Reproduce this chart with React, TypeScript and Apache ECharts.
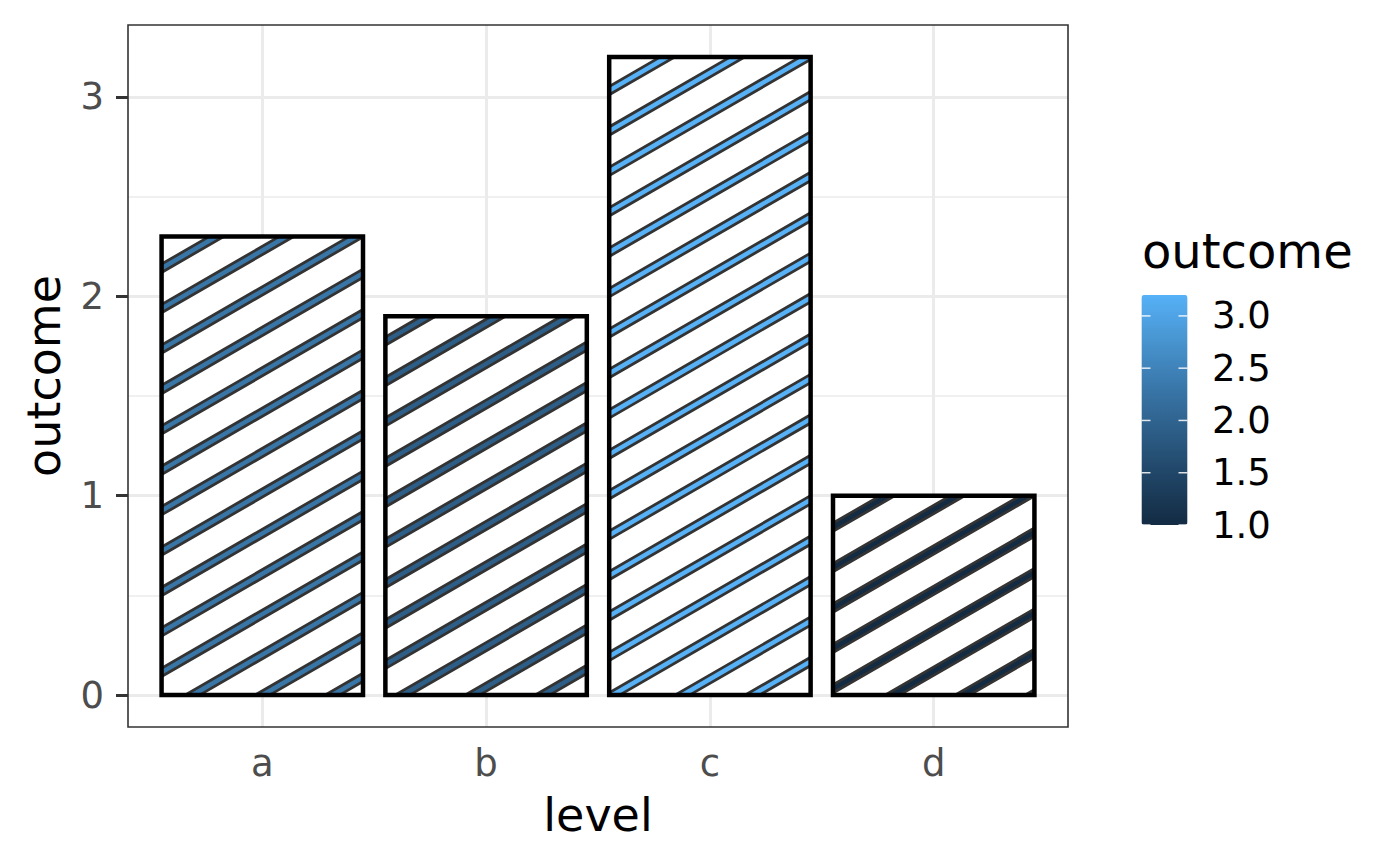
import React, { useEffect, useRef } from "react";
import * as echarts from "echarts";

// ---------- data ----------
const categories = ["a", "b", "c", "d"];
const outcome = [2.3, 1.9, 3.2, 1.0];
const yTicks = [0, 1, 2, 3];
const yMinorTicks = [0.5, 1.5, 2.5];
const legendTicks = [1.0, 1.5, 2.0, 2.5, 3.0];
const colorLow = "#132B43";
const colorHigh = "#56B1F7";

// ---------- layout / style constants ----------
const FONT = "DejaVu Sans";
const GRID = { left: 128, top: 25, width: 940, height: 702 };
const CB = { left: 1141.5, top: 295, width: 46, height: 230 };
const BAR_HALF = 0.45;
const STRIPE_ANGLE = 30;
const STRIPE_SPACING = 70;
const STRIPE_FILL_W = 7.2;
const STRIPE_STROKE_W = 2.8;
const BAR_BORDER_W = 4.5;

// ---------- Lab interpolation (ggplot seq_gradient_pal) ----------
function hexToRgb(h: string) {
  const n = parseInt(h.slice(1), 16);
  return [(n >> 16) & 255, (n >> 8) & 255, n & 255];
}
const toLin = (c: number) => {
  c /= 255;
  return c <= 0.04045 ? c / 12.92 : Math.pow((c + 0.055) / 1.055, 2.4);
};
const fromLin = (c: number) => {
  const v = c <= 0.0031308 ? 12.92 * c : 1.055 * Math.pow(c, 1 / 2.4) - 0.055;
  return Math.round(Math.min(1, Math.max(0, v)) * 255);
};
const WX = 0.95047, WY = 1, WZ = 1.08883;
const fLab = (t: number) => (t > 216 / 24389 ? Math.cbrt(t) : ((24389 / 27) * t + 16) / 116);
const fInv = (t: number) => (t * t * t > 216 / 24389 ? t * t * t : (116 * t - 16) / (24389 / 27));
function rgbToLab(rgb: number[]) {
  const [r, g, b] = rgb.map(toLin);
  const X = (0.4124564 * r + 0.3575761 * g + 0.1804375 * b) / WX;
  const Y = (0.2126729 * r + 0.7151522 * g + 0.072175 * b) / WY;
  const Z = (0.0193339 * r + 0.119192 * g + 0.9503041 * b) / WZ;
  const fx = fLab(X), fy = fLab(Y), fz = fLab(Z);
  return [116 * fy - 16, 500 * (fx - fy), 200 * (fy - fz)];
}
function labToHex(lab: number[]) {
  const [L, a, bb] = lab;
  const fy = (L + 16) / 116, fx = fy + a / 500, fz = fy - bb / 200;
  const X = fInv(fx) * WX, Y = fInv(fy) * WY, Z = fInv(fz) * WZ;
  const r = 3.2404542 * X - 1.5371385 * Y - 0.4985314 * Z;
  const g = -0.969266 * X + 1.8760108 * Y + 0.041556 * Z;
  const b = 0.0556434 * X - 0.2040259 * Y + 1.0572252 * Z;
  const hx = (v: number) => fromLin(v).toString(16).padStart(2, "0");
  return "#" + hx(r) + hx(g) + hx(b);
}
function labStops(c0: string, c1: string, n: number) {
  const l0 = rgbToLab(hexToRgb(c0)), l1 = rgbToLab(hexToRgb(c1));
  const out: string[] = [];
  for (let i = 0; i <= n; i++) {
    const t = i / n;
    out.push(labToHex([0, 1, 2].map((k) => l0[k] + (l1[k] - l0[k]) * t)));
  }
  return out;
}

// ---------- polygon clipping (Sutherland–Hodgman against rect) ----------
function clipPoly(pts: number[][], x0: number, y0: number, x1: number, y1: number) {
  const edges: [(p: number[]) => boolean, (a: number[], b: number[]) => number[]][] = [
    [(p) => p[0] >= x0, (a, b) => { const t = (x0 - a[0]) / (b[0] - a[0]); return [x0, a[1] + t * (b[1] - a[1])]; }],
    [(p) => p[0] <= x1, (a, b) => { const t = (x1 - a[0]) / (b[0] - a[0]); return [x1, a[1] + t * (b[1] - a[1])]; }],
    [(p) => p[1] >= y0, (a, b) => { const t = (y0 - a[1]) / (b[1] - a[1]); return [a[0] + t * (b[0] - a[0]), y0]; }],
    [(p) => p[1] <= y1, (a, b) => { const t = (y1 - a[1]) / (b[1] - a[1]); return [a[0] + t * (b[0] - a[0]), y1]; }],
  ];
  let out = pts;
  for (const [inside, inter] of edges) {
    const inp = out;
    out = [];
    if (!inp.length) break;
    for (let i = 0; i < inp.length; i++) {
      const cur = inp[i];
      const prev = inp[(i + inp.length - 1) % inp.length];
      const ci = inside(cur), pi = inside(prev);
      if (ci) {
        if (!pi) out.push(inter(prev, cur));
        out.push(cur);
      } else if (pi) {
        out.push(inter(prev, cur));
      }
    }
  }
  return out;
}

export default function App() {
  const ref = useRef<HTMLDivElement>(null);
  useEffect(() => {
    if (!ref.current) return;
    const chart = echarts.init(ref.current, undefined, { renderer: "svg" });
    const xPos = categories.map((_, i) => i + 1);
    const vMin = Math.min(...outcome);
    const vMax = Math.max(...outcome);
    const stops = labStops(colorLow, colorHigh, 12);

    const renderItem = (params: any, api: any) => {
      const xi = api.value(0);
      const v = api.value(1);
      const pL = api.coord([xi - BAR_HALF, 0]);
      const pR = api.coord([xi + BAR_HALF, v]);
      const x0 = pL[0], yb = pL[1], x1 = pR[0], yt = pR[1];
      const color = api.visual("color");
      const anchor = api.coord([xPos[0], 0]);
      const ang = (STRIPE_ANGLE * Math.PI) / 180;
      const dx = Math.cos(ang), dy = -Math.sin(ang);
      const nx = Math.sin(ang), ny = Math.cos(ang);
      const cot = 1 / Math.tan(ang);
      const kOf = (x: number, y: number) => (x - anchor[0] - (anchor[1] - y) * cot) / STRIPE_SPACING;
      const ks = [kOf(x0, yt), kOf(x1, yt), kOf(x0, yb), kOf(x1, yb)];
      const kMin = Math.floor(Math.min(...ks)) - 1;
      const kMax = Math.ceil(Math.max(...ks)) + 1;
      const children: any[] = [
        { type: "rect", shape: { x: x0, y: yt, width: x1 - x0, height: yb - yt }, style: { fill: "#ffffff" } },
      ];
      const L = 3000, hw = STRIPE_FILL_W / 2;
      for (let k = kMin; k <= kMax; k++) {
        const cx = anchor[0] + k * STRIPE_SPACING, cy = anchor[1];
        const poly = [
          [cx - dx * L + nx * hw, cy - dy * L + ny * hw],
          [cx + dx * L + nx * hw, cy + dy * L + ny * hw],
          [cx + dx * L - nx * hw, cy + dy * L - ny * hw],
          [cx - dx * L - nx * hw, cy - dy * L - ny * hw],
        ];
        const c = clipPoly(poly, x0, yt, x1, yb);
        if (c.length >= 3) {
          children.push({
            type: "polygon",
            shape: { points: c },
            style: { fill: color, stroke: "#333333", lineWidth: STRIPE_STROKE_W },
          });
        }
      }
      children.push({
        type: "rect",
        shape: { x: x0, y: yt, width: x1 - x0, height: yb - yt },
        style: { fill: "none", stroke: "#000000", lineWidth: BAR_BORDER_W },
      });
      return { type: "group", children };
    };

    const cbY = (v: number) => CB.top + ((vMax - v) / (vMax - vMin)) * CB.height;

    const graphics: any[] = [
      {
        type: "rect",
        z: 100,
        silent: true,
        shape: { x: GRID.left, y: GRID.top, width: GRID.width, height: GRID.height },
        style: { fill: "none", stroke: "#333333", lineWidth: 1.6 },
      },
      {
        type: "text",
        left: 1142,
        top: 227,
        z: 100,
        style: { text: "outcome", fontSize: 48, fontFamily: FONT, fill: "#000000" },
      },
    ];
    legendTicks.forEach((v) => {
      const y = cbY(v);
      graphics.push({
        type: "line",
        z: 100,
        shape: { x1: CB.left, y1: y, x2: CB.left + 9, y2: y },
        style: { stroke: "#ffffff", lineWidth: 1.5, opacity: 0.85 },
      });
      graphics.push({
        type: "line",
        z: 100,
        shape: { x1: CB.left + CB.width - 9, y1: y, x2: CB.left + CB.width, y2: y },
        style: { stroke: "#ffffff", lineWidth: 1.5, opacity: 0.85 },
      });
      graphics.push({
        type: "text",
        z: 100,
        x: 1212,
        y: y,
        style: {
          text: v.toFixed(1),
          fontSize: 37,
          fontFamily: FONT,
          fill: "#000000",
          verticalAlign: "middle",
          align: "left",
        },
      });
    });

    const gridLineData: any[] = [
      ...yMinorTicks.map((v) => ({ yAxis: v, lineStyle: { color: "#EBEBEB", width: 1.5, type: "solid" } })),
      ...yTicks.map((v) => ({ yAxis: v, lineStyle: { color: "#EBEBEB", width: 3, type: "solid" } })),
      ...xPos.map((v) => ({ xAxis: v, lineStyle: { color: "#EBEBEB", width: 3, type: "solid" } })),
    ];

    chart.setOption({
      animation: false,
      backgroundColor: "#ffffff",
      textStyle: { fontFamily: FONT },
      grid: { left: GRID.left, top: GRID.top, width: GRID.width, height: GRID.height, show: false },
      xAxis: {
        type: "value",
        min: 0.4,
        max: 4.6,
        axisLine: { show: false },
        axisTick: { show: true, customValues: xPos, length: 12, lineStyle: { color: "#333333", width: 3 } },
        axisLabel: {
          customValues: xPos,
          formatter: (v: number) => categories[Math.round(v) - 1] ?? "",
          fontSize: 37,
          color: "#4D4D4D",
          fontFamily: FONT,
          margin: 18,
        },
        splitLine: { show: false },
        name: "level",
        nameLocation: "middle",
        nameGap: 65,
        nameTextStyle: { fontSize: 46, color: "#000000", fontFamily: FONT },
      },
      yAxis: {
        type: "value",
        min: -0.16,
        max: 3.36,
        axisLine: { show: false },
        axisTick: { show: true, customValues: yTicks, length: 12, lineStyle: { color: "#333333", width: 3 } },
        axisLabel: {
          customValues: yTicks,
          fontSize: 37,
          color: "#4D4D4D",
          fontFamily: FONT,
          margin: 24,
        },
        splitLine: { show: false },
        name: "outcome",
        nameLocation: "middle",
        nameGap: 61,
        nameTextStyle: { fontSize: 46, color: "#000000", fontFamily: FONT },
      },
      visualMap: {
        type: "continuous",
        min: vMin,
        max: vMax,
        dimension: 1,
        seriesIndex: 1,
        orient: "vertical",
        left: CB.left,
        top: CB.top,
        itemWidth: CB.width,
        itemHeight: CB.height,
        padding: 0,
        calculable: false,
        hoverLink: false,
        inRange: { color: stops },
      },
      graphic: graphics,
      series: [
        {
          type: "line",
          data: [],
          z: 1,
          silent: true,
          markLine: {
            z: 1,
            silent: true,
            symbol: ["none", "none"],
            label: { show: false },
            emphasis: { disabled: true },
            animation: false,
            data: gridLineData,
          },
        },
        {
          type: "custom",
          z: 3,
          renderItem,
          encode: { x: 0, y: 1 },
          data: categories.map((_, i) => [xPos[i], outcome[i]]),
        },
      ],
    });
    return () => chart.dispose();
  }, []);
  return <div ref={ref} style={{ position: "absolute", left: 0, top: 0, width: 1400, height: 866 }} />;
}
